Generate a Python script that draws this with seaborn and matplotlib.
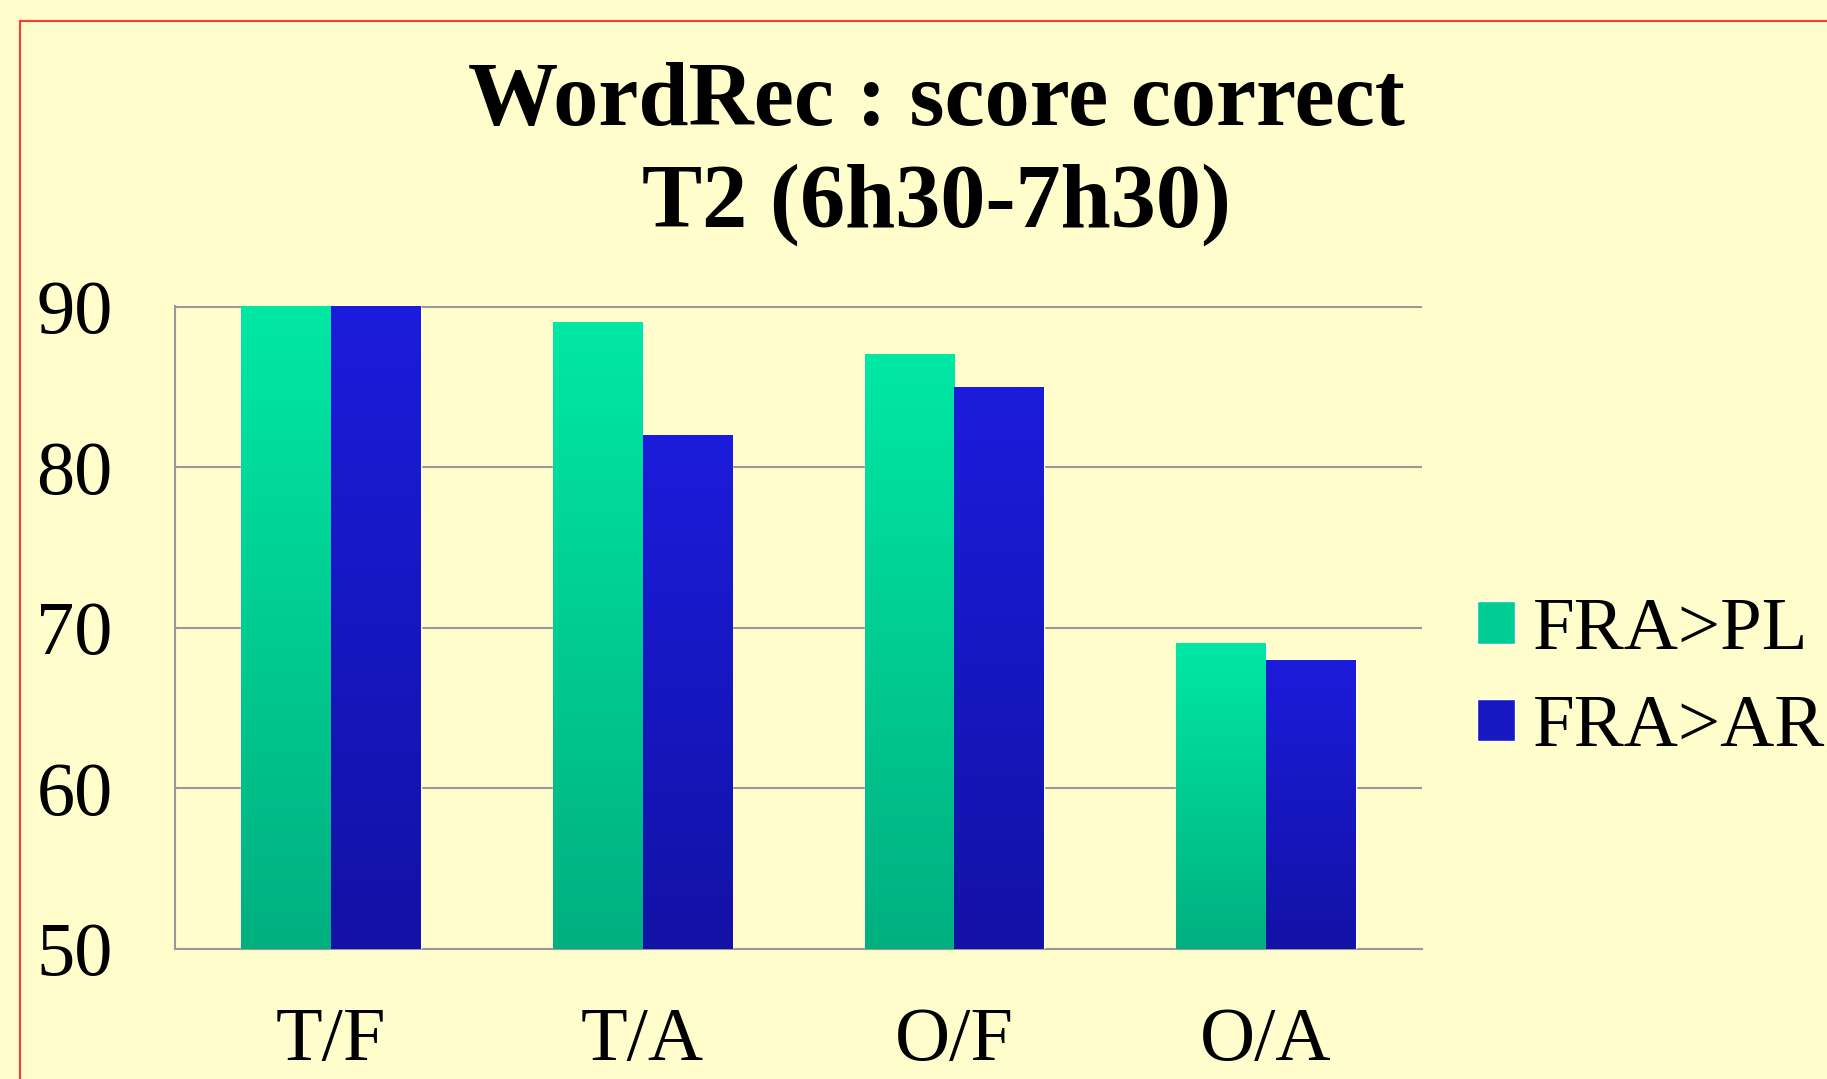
import numpy as np
import pandas as pd
import matplotlib.pyplot as plt
import seaborn as sns
from matplotlib.colors import LinearSegmentedColormap
from matplotlib.patches import Rectangle

# values
categories = ["T/F", "T/A", "O/F", "O/A"]
series = ["FRA>PL", "FRA>AR"]
pl_scores = [90, 89, 87, 69]
ar_scores = [90, 82, 85, 68]
y_ticks = [50, 60, 70, 80, 90]

df = pd.DataFrame({
    "cat": categories * 2,
    "score": pl_scores + ar_scores,
    "group": [series[0]] * 4 + [series[1]] * 4,
})

bg = "#FFFDCC"
top_cols = {"FRA>PL": "#00E8A4", "FRA>AR": "#1C1CDC"}
bot_cols = {"FRA>PL": "#00B080", "FRA>AR": "#1212A6"}
mid_cols = {"FRA>PL": "#00CC94", "FRA>AR": "#1818C2"}

sns.set_style("white")
plt.rcParams["font.family"] = ["Liberation Serif", "DejaVu Serif"]
plt.rcParams["text.color"] = "black"
plt.rcParams["xtick.color"] = "black"
plt.rcParams["ytick.color"] = "black"

fig = plt.figure(figsize=(18.27, 10.79), dpi=100, facecolor=bg)
ax = fig.add_axes([0.0958, 0.1205, 0.6825, 0.5959])
ax.set_facecolor(bg)

sns.barplot(data=df, x="cat", y="score", hue="group", order=categories,
            hue_order=series, palette=mid_cols, width=0.575, ax=ax,
            legend=False, zorder=3)

# vertical gradient fill like the original slide
ymin = 50
for cont, name in zip(ax.containers, series):
    cmap = LinearSegmentedColormap.from_list(name, [bot_cols[name], top_cols[name]])
    for p in cont.patches:
        x0 = p.get_x()
        x1 = x0 + p.get_width()
        h = p.get_height()
        grad = np.linspace(0, 1, 256).reshape(-1, 1)
        ax.imshow(grad, extent=[x0, x1, ymin, h], origin="lower", cmap=cmap,
                  aspect="auto", zorder=3.5)

ax.set_xlim(-0.5, 3.5)
ax.set_ylim(50, 90.05)
ax.set_yticks(y_ticks)
ax.yaxis.grid(True, color="#999999", linewidth=1.5, zorder=1)
ax.xaxis.grid(False)
for s in ["top", "right"]:
    ax.spines[s].set_visible(False)
for s in ["left", "bottom"]:
    ax.spines[s].set_color("#999999")
    ax.spines[s].set_linewidth(1.5)
ax.tick_params(axis="y", length=0, pad=45, labelsize=55, labelcolor="black")
ax.tick_params(axis="x", length=0, pad=42, labelsize=55, labelcolor="black")
ax.set_xlabel("")
ax.set_ylabel("")

fig.text(936 / 1827, 1 - 154 / 1079, "WordRec : score correct\nT2 (6h30-7h30)",
         ha="center", va="center", fontsize=65, fontweight="bold",
         linespacing=1.3, color="black")

handles = [Rectangle((0, 0), 1, 1, facecolor=mid_cols[s]) for s in series]
fig.legend(handles, series, loc="center left",
           bbox_to_anchor=(1477 / 1827, 1 - 680 / 1079), frameon=False,
           fontsize=54, handlelength=0.5, handleheight=0.5, handletextpad=0.25,
           labelspacing=0.4, borderpad=0, borderaxespad=0, labelcolor="black")

# red slide border (right/bottom edges fall outside the crop)
fig.patches.append(Rectangle((20 / 1827, -0.1), 1.2, 1.1 - 21 / 1079,
                             transform=fig.transFigure, fill=False,
                             edgecolor="#FF3B30", linewidth=1.5))

fig.savefig("out.png", dpi=100, facecolor=bg)
